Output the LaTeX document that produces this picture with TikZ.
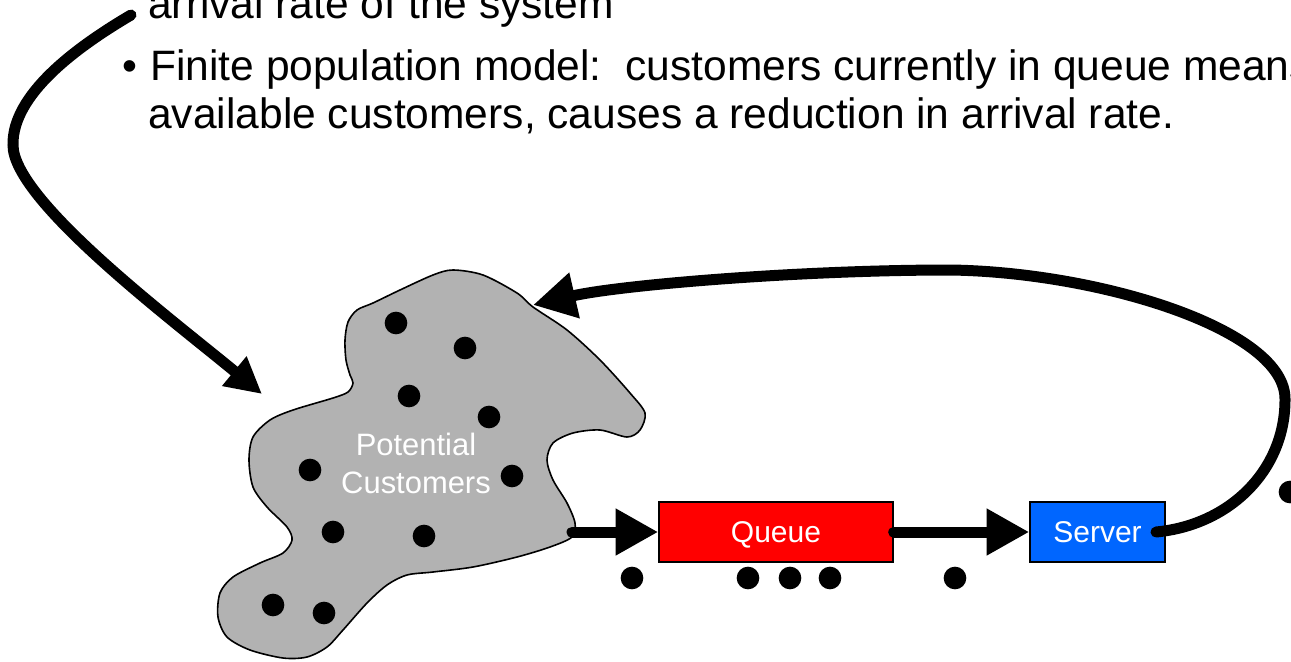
\documentclass[tikz,border=0pt]{standalone}
\usepackage{fontspec}
\setmainfont{Liberation Sans}
\usetikzlibrary{arrows.meta}
\definecolor{blobgray}{HTML}{B2B2B2}
\definecolor{qred}{HTML}{FF0000}
\definecolor{sblue}{HTML}{0066FF}
\begin{document}
\begin{tikzpicture}[x=0.75pt,y=-0.75pt,
  flow/.style={line width=8.25pt, line cap=round},
  tipbig/.style={-{Triangle[length=32pt,width=33pt]}},
  tipsmall/.style={-{Triangle[length=27pt,width=27pt]}},
  dot/.style={fill=black},
  boxnode/.style={draw=black, line width=1.1pt, minimum height=45pt, text=white,
    font=\fontsize{22.5}{27}\selectfont, text height=16pt, text depth=0pt, inner sep=0pt},
  bodytext/.style={anchor=base west, inner sep=0pt, font=\fontsize{31.9}{36}\selectfont}
]
\clip (0,0) rectangle (1291,661);

% text
\node[bodytext] (l1) at (148,18) {arrival rate of the system};
\node[bodytext] (bul) at (122,80) {\textbullet};
\node[bodytext] (l2) at (150,80) {Finite population model:\ \ customers currently in queue means};
\node[bodytext] (l3) at (148,128) {available customers, causes a reduction in arrival rate.};

% blob
\draw[fill=blobgray, line width=1.2pt] plot[smooth cycle, tension=0.5] coordinates {
(348,322) (357,310) (373,303) (400,290) (433,275) (453,270) (483,275) (517,293)
(533,307) (567,330) (600,360) (630,393) (645,413) (640,430) (627,437) (600,430)
(573,433) (553,443) (547,460) (553,480) (567,503) (575,523) (572,537) (550,547)
(517,557) (473,567) (433,572) (407,575) (387,585) (367,603) (343,630) (327,647)
(307,657) (283,658) (250,650) (227,637) (218,617) (220,593) (233,577) (260,563)
(283,553) (292,540) (287,527) (267,507) (253,487) (249,460) (253,437) (270,420)
(293,410) (333,398) (348,392) (353,383) (350,375) (346,360) (345,340)};

\foreach \p in {(396,323),(465,348),(409,396),(489,417),(310,470),(512,476),
  (333,532),(424,536),(273,605),(324,613),
  (632,578),(748,578),(790,578),(830,578),(955,578),(1290,492)}
  \fill[dot] \p circle[radius=8.5pt];

\node[text=white, align=center, inner sep=0pt, font=\fontsize{23.2}{28.5}\selectfont]
  (pc) at (416,463) {Potential\\Customers};

% boxes
\node[boxnode, fill=qred, minimum width=175.5pt] (queue) at (776,532) {Queue};
\node[boxnode, fill=sblue, minimum width=101.25pt] (server) at (1097.5,532) {Server};

% connector ends
\coordinate (blobout) at (572,532);
\coordinate (blobin) at (533,305);
\coordinate (blobleft) at (262,394);
\coordinate (txtstart) at (131,15);
\coordinate (srvout) at (1156,532);
\coordinate (fbA) at (1285,400);
\coordinate (fbB) at (950,270);
\coordinate (lfA) at (13,145);

\draw[flow, tipbig] (blobout) -- (queue.west);
\draw[flow, tipbig] (queue.east) -- (server.west);
\draw[flow, tipbig] (srvout) .. controls (1230,525) and (1285,470) .. (fbA)
  .. controls (1287,330) and (1100,272) .. (fbB)
  .. controls (800,270) and (620,285) .. (blobin);
\draw[flow, tipsmall] (txtstart) .. controls (75,48) and (12,95) .. (lfA)
  .. controls (13,200) and (170,318) .. (blobleft);
\end{tikzpicture}
\end{document}
